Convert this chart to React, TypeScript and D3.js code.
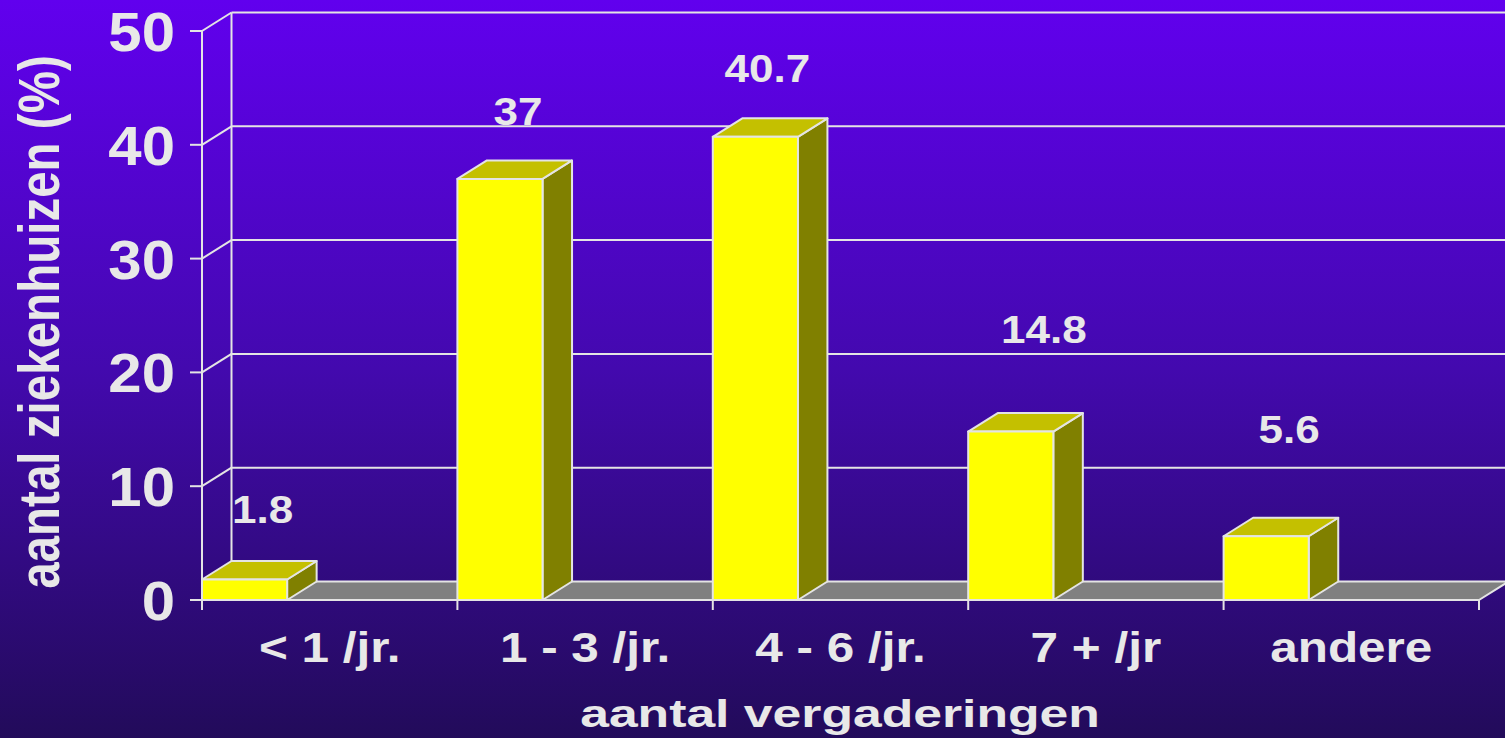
import React from 'react';
import * as d3 from 'd3';

const categories = ['< 1 /jr.', '1 - 3 /jr.', '4 - 6 /jr.', '7 + /jr', 'andere'];
const percentages = [1.8, 37, 40.7, 14.8, 5.6];
const yTicks = [0, 10, 20, 30, 40, 50];

const W = 1505;
const H = 738;
// 3d depth offset of the walls and bars
const DX = 29.5;
const DY = -18.5;
const FONT = '"Liberation Sans", Arial, sans-serif';
const TXT = '#E8E8E8';
const LINE = '#E4E4E4';

// labels in the original slide were dragged by hand, these are the nudges
const labelNudge = [
  [0, 0],
  [0, 3],
  [-6, 2],
  [15, -32],
  [5, -36],
];

const App = () => {
  const x = d3.scaleBand<string>().domain(categories).range([202, 1479]).padding(0);
  const y = d3.scaleLinear().domain([0, 50]).range([600, 31]);
  const bw = x.bandwidth() / 3;
  const y0 = y(0);
  const xL = x.range()[0];
  const xR = x.range()[1];

  const pts = (p: number[][]) => p.map((d) => d.join(',')).join(' ');

  return (
    <svg
      width={W}
      height={H}
      style={{ position: 'absolute', left: 0, top: 0, display: 'block' }}
    >
      <defs>
        <linearGradient id="bg" x1="0" y1="0" x2="0" y2="1">
          <stop offset="0" stopColor="#6100EE" />
          <stop offset="0.5" stopColor="#4309AE" />
          <stop offset="1" stopColor="#220B5A" />
        </linearGradient>
      </defs>
      <rect width={W} height={H} fill="url(#bg)" />

      {/* back wall grid + side wall lines */}
      {yTicks.map((t) => (
        <g key={'g' + t}>
          {t > 0 && (
            <line
              x1={xL + DX}
              x2={xR + DX + 20}
              y1={y(t) + DY}
              y2={y(t) + DY}
              stroke={LINE}
              strokeWidth={2}
            />
          )}
          <line x1={xL} y1={y(t)} x2={xL + DX} y2={y(t) + DY} stroke={LINE} strokeWidth={2} />
          <line x1={xL - 12} x2={xL} y1={y(t)} y2={y(t)} stroke={LINE} strokeWidth={2} />
        </g>
      ))}
      <line x1={xL + DX} x2={xL + DX} y1={y(50) + DY} y2={y0 + DY} stroke={LINE} strokeWidth={2} />

      {/* floor */}
      <polygon
        points={pts([
          [xL, y0],
          [xR, y0],
          [xR + DX, y0 + DY],
          [xL + DX, y0 + DY],
        ])}
        fill="#808080"
        stroke={LINE}
        strokeWidth={2}
        strokeLinejoin="round"
      />

      {/* front y axis */}
      <line x1={xL} x2={xL} y1={y(50)} y2={y0} stroke={LINE} strokeWidth={2} />

      {/* x ticks */}
      {[...categories.map((c) => x(c) as number), xR].map((v, i) => (
        <line key={'xt' + i} x1={v} x2={v} y1={y0} y2={y0 + 10} stroke={LINE} strokeWidth={2} />
      ))}

      {/* bars */}
      {categories.map((c, i) => {
        const x0 = x(c) as number;
        const x1 = x0 + bw;
        const yt = y(percentages[i]);
        return (
          <g key={c} stroke={LINE} strokeWidth={2} strokeLinejoin="round">
            <polygon
              points={pts([
                [x1, yt],
                [x1 + DX, yt + DY],
                [x1 + DX, y0 + DY],
                [x1, y0],
              ])}
              fill="#808000"
            />
            <polygon
              points={pts([
                [x0, yt],
                [x1, yt],
                [x1 + DX, yt + DY],
                [x0 + DX, yt + DY],
              ])}
              fill="#C4C000"
            />
            <rect x={x0} y={yt} width={bw} height={y0 - yt} fill="#FFFF00" />
          </g>
        );
      })}

      {/* value labels */}
      {categories.map((c, i) => {
        const cx = (x(c) as number) + bw / 2 + 18 + labelNudge[i][0];
        const by = y(percentages[i]) - 57 + labelNudge[i][1];
        return (
          <text
            key={'v' + c}
            transform={`translate(${cx},${by}) scale(1.13,1)`}
            textAnchor="middle"
            fontFamily={FONT}
            fontWeight="bold"
            fontSize={39}
            fill={TXT}
          >
            {String(percentages[i])}
          </text>
        );
      })}

      {/* y tick labels */}
      {yTicks.map((t) => (
        <text
          key={'yl' + t}
          transform={`translate(175,${y(t) + 20}) scale(1.07,1)`}
          textAnchor="end"
          fontFamily={FONT}
          fontWeight="bold"
          fontSize={56}
          fill={TXT}
        >
          {t}
        </text>
      ))}

      {/* category labels */}
      {categories.map((c) => (
        <text
          key={'cl' + c}
          transform={`translate(${(x(c) as number) + x.bandwidth() / 2},662) scale(1.15,1)`}
          textAnchor="middle"
          fontFamily={FONT}
          fontWeight="bold"
          fontSize={43}
          fill={TXT}
        >
          {c}
        </text>
      ))}

      {/* axis titles */}
      <text
        transform="translate(840,727) scale(1.36,1)"
        textAnchor="middle"
        fontFamily={FONT}
        fontWeight="bold"
        fontSize={38}
        fill={TXT}
      >
        aantal vergaderingen
      </text>
      <text
        transform="translate(58.5,322) rotate(-90) scale(0.82,1)"
        textAnchor="middle"
        fontFamily={FONT}
        fontWeight="bold"
        fontSize={58}
        fill={TXT}
      >
        aantal ziekenhuizen (%)
      </text>
    </svg>
  );
};

export default App;
